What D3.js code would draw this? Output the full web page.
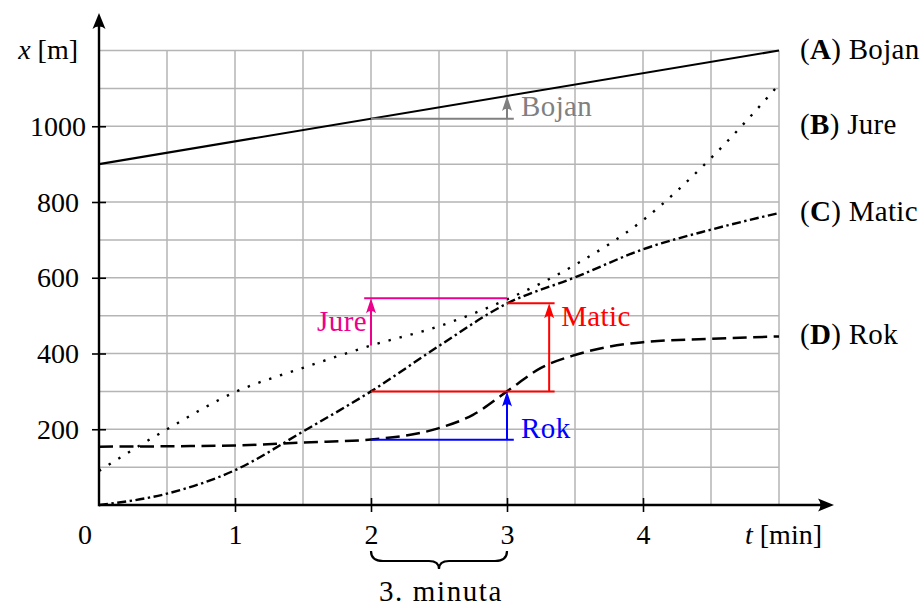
<!DOCTYPE html>
<html>
<head>
<meta charset="utf-8">
<script src="https://cdn.jsdelivr.net/npm/d3@7"></script>
<style>
    body { margin: 0; background: #fff; }
    svg text { font-family: "Liberation Serif", "DejaVu Serif", "Noto Serif", serif; }
</style>
</head>
<body>
<svg id="chart" width="924" height="608"></svg>
<script>
// Positions (m) over time (min)
const bojanT = [0, 5];
const bojanX = [900, 1200];
const jureT = [0, 0.5, 1, 1.5, 2, 2.5, 3, 3.5, 4, 4.5, 5];
const jureX = [90, 200, 298, 362, 421, 472, 543, 634, 752, 916, 1110];
const maticT = [0, 0.5, 1, 1.5, 2, 2.5, 3, 3.5, 4, 4.5, 5];
const maticX = [0, 30, 92, 194, 300, 420, 532, 601, 675, 727, 771];
const rokT = [0, 0.5, 1, 1.5, 2, 2.5, 2.75, 3, 3.25, 3.5, 3.75, 4, 4.5, 5];
const rokX = [154, 155, 157, 165, 173, 203, 238, 300, 362, 396, 418, 430, 439, 445];

const xTicks = [1, 2, 3, 4];
const yTicks = [200, 400, 600, 800, 1000];

// Legend on the right: letter, name, height (m) it sits at
const legendLetters = ["A", "B", "C", "D"];
const legendNames = ["Bojan", "Jure", "Matic", "Rok"];
const legendValues = [1200, 1000, 770, 445];

// Third-minute gains: arrow time, from (m), to (m)
const gainNames = ["Bojan", "Jure", "Matic", "Rok"];
const gainT = [3, 2, 3.31, 3];
const gainFrom = [1020, 421, 300, 172];
const gainTo = [1080, 546, 533, 300];

// Horizontal guide lines: owner, t start, t end, height (m)
const guideNames = ["Bojan", "Jure", "Matic", "Matic", "Rok"];
const guideT0 = [2, 1.95, 2, 3, 2];
const guideT1 = [3.05, 3, 3.35, 3.35, 3.05];
const guideX = [1020, 546, 300, 533, 172];

const colors = { Bojan: "#808080", Jure: "#ec008c", Matic: "#ff0000", Rok: "#0000ff" };
const FONT = '"Liberation Serif", "DejaVu Serif", serif';

const svg = d3.select("#chart");
const x = d3.scaleLinear().domain([0, 5]).range([99, 779]);
const y = d3.scaleLinear().domain([0, 1200]).range([505, 50.5]);

// Grid
const grid = svg.append("g").attr("stroke", "#b5b5b5").attr("stroke-width", 1.5);
grid.selectAll("line.v")
    .data(d3.range(0.5, 5.01, 0.5))
    .join("line")
    .attr("x1", d => x(d)).attr("x2", d => x(d))
    .attr("y1", y(0)).attr("y2", y(1200));
grid.selectAll("line.h")
    .data(d3.range(100, 1201, 100))
    .join("line")
    .attr("x1", x(0)).attr("x2", x(5))
    .attr("y1", d => y(d)).attr("y2", d => y(d));

// Curves
const line = d3.line()
    .x(d => x(d[0]))
    .y(d => y(d[1]))
    .curve(d3.curveMonotoneX);

const series = [
    { t: bojanT, v: bojanX, dash: null, w: 2.1 },
    { t: jureT, v: jureX, dash: "2.4,9", w: 2.4 },
    { t: maticT, v: maticX, dash: "9,3.5,2.4,3.5", w: 2.4 },
    { t: rokT, v: rokX, dash: "14,6.5", w: 2.5 }
];

svg.append("g")
    .selectAll("path")
    .data(series)
    .join("path")
    .attr("d", d => line(d.t.map((t, i) => [t, d.v[i]])))
    .attr("fill", "none")
    .attr("stroke", "#000")
    .attr("stroke-width", d => d.w)
    .attr("stroke-dasharray", d => d.dash);

// Arrowhead helper, tip at (px, py), pointing in direction angle (deg)
function arrowHead(g, px, py, angle, len, hw, color) {
    g.append("path")
        .attr("d", `M0,0 L${-len},${-hw} Q${-len * 0.7},0 ${-len},${hw} Z`)
        .attr("transform", `translate(${px},${py}) rotate(${angle})`)
        .attr("fill", color);
}

// Guide lines
const ann = svg.append("g");
ann.selectAll("line.guide")
    .data(guideNames)
    .join("line")
    .attr("x1", (d, i) => x(guideT0[i]))
    .attr("x2", (d, i) => x(guideT1[i]))
    .attr("y1", (d, i) => y(guideX[i]))
    .attr("y2", (d, i) => y(guideX[i]))
    .attr("stroke", d => colors[d])
    .attr("stroke-width", 2);

// Gain arrows
gainNames.forEach((name, i) => {
    const ax = x(gainT[i]);
    ann.append("line")
        .attr("x1", ax).attr("x2", ax)
        .attr("y1", y(gainFrom[i])).attr("y2", y(gainTo[i]) + 8)
        .attr("stroke", colors[name])
        .attr("stroke-width", 2);
    arrowHead(ann, ax, y(gainTo[i]), -90, 15, 5, colors[name]);
});

// Gain labels
const gainLabel = ann.append("g")
    .style("font-size", "29px").style("font-family", FONT).style("letter-spacing", "0.4px");
gainLabel.append("text")
    .attr("x", x(gainT[0]) + 14).attr("y", y((gainFrom[0] + gainTo[0]) / 2) + 9)
    .attr("fill", colors.Bojan).text("Bojan");
gainLabel.append("text")
    .attr("x", x(gainT[1]) - 4).attr("y", y((gainFrom[1] + gainTo[1]) / 2) + 9)
    .attr("text-anchor", "end")
    .attr("fill", colors.Jure).text("Jure");
gainLabel.append("text")
    .attr("x", x(gainT[2]) + 12).attr("y", y(gainTo[2]) + 23)
    .attr("fill", colors.Matic).text("Matic");
gainLabel.append("text")
    .attr("x", x(gainT[3]) + 14).attr("y", y(gainFrom[3]) - 2)
    .attr("fill", colors.Rok).text("Rok");

// Axes
const xAxis = svg.append("g")
    .attr("transform", `translate(0,${y(0)})`)
    .call(d3.axisBottom(x).tickValues(xTicks).tickSize(7).tickFormat(d3.format("d")));
xAxis.attr("font-family", null).attr("font-size", null);
xAxis.select(".domain").remove();
xAxis.selectAll(".tick line").attr("y1", -7).attr("y2", 7).attr("stroke", "#000").attr("stroke-width", 1.6);
xAxis.selectAll(".tick text")
    .attr("y", 39).attr("dy", null)
    .attr("fill", "#000")
    .style("font-size", "28px").style("font-family", FONT);

const yAxis = svg.append("g")
    .attr("transform", `translate(${x(0)},0)`)
    .call(d3.axisLeft(y).tickValues(yTicks).tickSize(7).tickFormat(d3.format("d")));
yAxis.attr("font-family", null).attr("font-size", null);
yAxis.select(".domain").remove();
yAxis.selectAll(".tick line").attr("x1", -7).attr("x2", 7).attr("stroke", "#000").attr("stroke-width", 1.6);
yAxis.selectAll(".tick text")
    .attr("x", -41).attr("dy", 9)
    .attr("text-anchor", "middle")
    .attr("fill", "#000")
    .style("font-size", "28px").style("font-family", FONT);

// Axis lines with arrows
svg.append("line")
    .attr("x1", x(0)).attr("x2", 826)
    .attr("y1", y(0)).attr("y2", y(0))
    .attr("stroke", "#000").attr("stroke-width", 2.4);
arrowHead(svg, 834, y(0), 0, 16, 6.5, "#000");
svg.append("line")
    .attr("x1", x(0)).attr("x2", x(0))
    .attr("y1", y(0) + 1.2).attr("y2", 21)
    .attr("stroke", "#000").attr("stroke-width", 2.4);
arrowHead(svg, x(0), 13, -90, 16, 6.5, "#000");

// Origin label and axis titles
svg.append("text")
    .attr("x", 85).attr("y", 544)
    .attr("text-anchor", "middle")
    .style("font-size", "28px").style("font-family", FONT)
    .text("0");

const xTitle = svg.append("text")
    .attr("x", 78).attr("y", 59)
    .attr("text-anchor", "end")
    .style("font-size", "28px").style("font-family", FONT);
xTitle.append("tspan").style("font-style", "italic").text("x");
xTitle.append("tspan").text(" [m]");

const tTitle = svg.append("text")
    .attr("x", 822).attr("y", 544)
    .attr("text-anchor", "end")
    .style("font-size", "28px").style("font-family", FONT);
tTitle.append("tspan").style("font-style", "italic").text("t");
tTitle.append("tspan").text(" [min]");

// Legend labels at the right edge
const legend = svg.append("g")
    .style("font-size", "29px").style("font-family", FONT).style("letter-spacing", "0.3px");
legendNames.forEach((name, i) => {
    const tx = legend.append("text")
        .attr("x", 800)
        .attr("y", y(legendValues[i]) + 8);
    tx.append("tspan").text("(");
    tx.append("tspan").style("font-weight", "bold").text(legendLetters[i]);
    tx.append("tspan").text(") " + name);
});

// Brace under the third minute
const bx0 = x(2), bx1 = x(3), bm = (bx0 + bx1) / 2;
svg.append("path")
    .attr("d", `M${bx0},551 Q${bx0},561 ${bx0 + 12},561 L${bm - 10},561 Q${bm},561 ${bm},569 ` +
        `Q${bm},561 ${bm + 10},561 L${bx1 - 12},561 Q${bx1},561 ${bx1},551`)
    .attr("fill", "none")
    .attr("stroke", "#000")
    .attr("stroke-width", 2.2);

svg.append("text")
    .attr("x", bm + 2).attr("y", 601)
    .attr("text-anchor", "middle")
    .style("font-size", "29px").style("font-family", FONT).style("letter-spacing", "1.6px")
    .text("3. minuta");
</script>
</body>
</html>
